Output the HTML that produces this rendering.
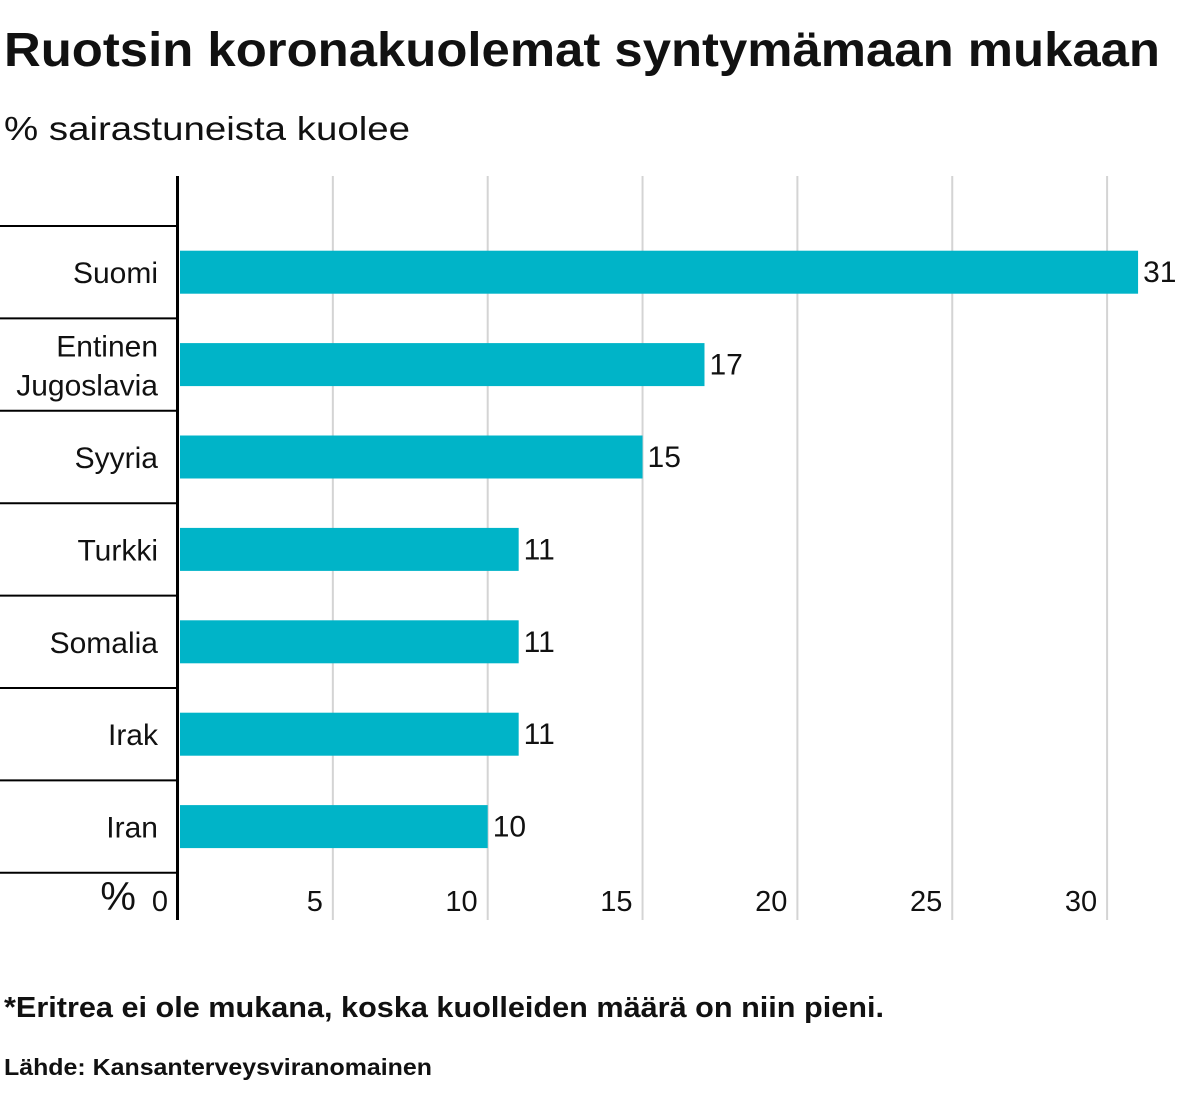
<!DOCTYPE html>
<html><head><meta charset="utf-8"><style>
html,body{margin:0;padding:0;background:#fff;}
svg{display:block;font-family:"Liberation Sans",sans-serif;}
</style></head><body>
<svg id="chart" width="1199" height="1097" viewBox="0 0 1199 1097">
<text x="4" y="66" font-size="48" font-weight="bold" fill="#111" textLength="1156" lengthAdjust="spacingAndGlyphs">Ruotsin koronakuolemat syntymämaan mukaan</text>
<text x="4" y="140" font-size="33" fill="#111" textLength="406" lengthAdjust="spacingAndGlyphs">% sairastuneista kuolee</text>
<g id="grid"></g>
<g id="rows"></g>
<g id="bars"></g>
<line x1="177.5" y1="176" x2="177.5" y2="920" stroke="#000" stroke-width="3"/>
<text x="136" y="910" font-size="40" text-anchor="end" fill="#111">%</text>
<text x="4" y="1017" font-size="29" font-weight="bold" fill="#111" textLength="880" lengthAdjust="spacingAndGlyphs">*Eritrea ei ole mukana, koska kuolleiden määrä on niin pieni.</text>
<text x="4" y="1075" font-size="23" font-weight="bold" fill="#111" textLength="428" lengthAdjust="spacingAndGlyphs">Lähde: Kansanterveysviranomainen</text>
</svg>
<script>
const categories=[["Suomi"],["Entinen","Jugoslavia"],["Syyria"],["Turkki"],["Somalia"],["Irak"],["Iran"]];
const values=[31,17,15,11,11,11,10];
const ticks=[0,5,10,15,20,25,30];
const NS="http://www.w3.org/2000/svg";
const x0=178, unit=30.97, rowTop=226, rowH=92.4, barH=43;
const xs=v=>x0+v*unit;
function mk(tag,attrs,parent,txt){const e=document.createElementNS(NS,tag);for(const k in attrs)e.setAttribute(k,attrs[k]);if(txt!=null)e.textContent=txt;parent.appendChild(e);return e;}
const grid=document.getElementById('grid'),rows=document.getElementById('rows'),bars=document.getElementById('bars');
ticks.forEach(t=>{
  if(t>0){const l=mk('line',{x1:xs(t),x2:xs(t),y1:176,y2:920,stroke:'#d4d4d4','stroke-width':2},grid);
  
  }
  const tx=mk('text',{x:xs(t)-10,y:911,'font-size':29,'text-anchor':'end',fill:'#111'},grid,String(t));
  
  
});
for(let i=0;i<=categories.length;i++){
  const y=rowTop+i*rowH;
  const l=mk('line',{x1:0,x2:177,y1:y,y2:y,stroke:'#000','stroke-width':2},rows);
  
  
}
categories.forEach((c,i)=>{
  const cy=rowTop+i*rowH+rowH/2;
  const by=cy-barH/2;
  const r=mk('rect',{x:x0+2,y:by,width:xs(values[i])-x0-2,height:barH,fill:'#00b4c8'},bars);
  
  
  const v=mk('text',{x:xs(values[i])+5,y:cy+10,'font-size':30,fill:'#111'},bars,String(values[i]));
  
  
  c.forEach((s,j)=>{
    const yy=c.length===1?cy+11:cy-8+j*39;
    const t=mk('text',{x:158,y:yy,'font-size':30,'text-anchor':'end',fill:'#111'},bars,s);
    
    
  });
});
</script>
</body></html>
